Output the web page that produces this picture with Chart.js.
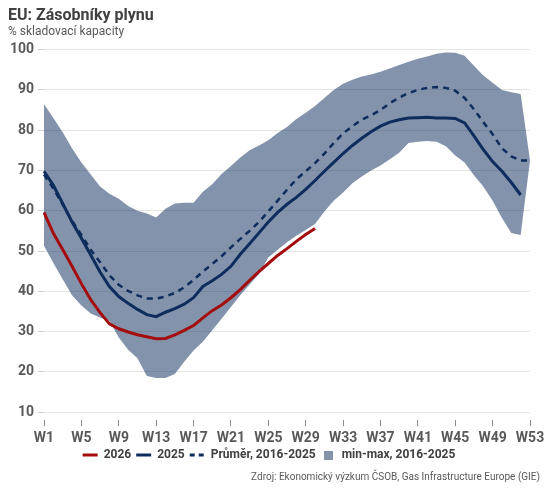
<!DOCTYPE html>
<html>
<head>
<meta charset="utf-8">
<script src="https://cdn.jsdelivr.net/npm/chart.js@4"></script>
<style>
  body { margin: 0; background: #fff; }
  #wrap { position: relative; width: 552px; height: 492px; }
  #src { position: absolute; right: 12px; top: 471px; font: 10px Roboto, sans-serif; color: #595959; }
</style>
</head>
<body>
<div id="wrap">
  <canvas id="zasobniky"></canvas>
  <div id="src">Zdroj: Ekonomický výzkum ČSOB, Gas Infrastructure Europe (GIE)</div>
</div>
<script>
// Zásobníky plynu EU – % skladovací kapacity, týdenní data
const weeks = Array.from({ length: 53 }, (_, i) => 'W' + (i + 1));
const yTicks = [10, 20, 30, 40, 50, 60, 70, 80, 90, 100];

const data2026 = [59.6, 54.4, 50.4, 46.2, 41.9, 37.9, 34.7, 31.9, 30.7, 29.9,
    29.2, 28.7, 28.2, 28.3, 29.2, 30.3, 31.5, 33.4, 35.2, 36.6,
    38.4, 40.4, 42.7, 44.9, 46.9, 48.9, 50.6, 52.4, 54.1, 55.6];

const data2025 = [69.8, 66.3, 61.8, 57.2, 53.2, 49, 44.8, 41.2, 38.7, 37,
    35.5, 34.2, 33.7, 34.8, 35.7, 36.8, 38.4, 41.2, 42.6, 44.2,
    46.2, 49.2, 51.8, 54.5, 57.2, 59.6, 61.6, 63.3, 65.3, 67.5,
    69.8, 72, 74.2, 76.2, 78, 79.6, 81, 82, 82.6, 83,
    83.1, 83.2, 83, 83, 82.9, 81.8, 78.6, 75.2, 72.2, 69.8,
    67, 63.9];

const dataAvg = [69, 65.5, 61.5, 57.5, 54, 50.3, 47.2, 44, 41.6, 40.1,
    39, 38.2, 38.2, 38.7, 39.6, 41, 42.8, 44.9, 46.8, 48.7,
    50.9, 53, 55, 57.2, 59.8, 62.5, 65.2, 67.8, 69.8, 71.8,
    74.2, 76.8, 79.2, 81, 82.6, 83.7, 85, 86.7, 88.1, 89.2,
    90, 90.5, 90.7, 90.5, 89.8, 88, 85.2, 82, 79, 75.5,
    73.5, 72.5, 72.5];

const dataMax = [86.5, 83, 79.5, 75.5, 72, 69, 66, 64.2, 63, 61.2,
    60, 59.3, 58.3, 60.5, 61.8, 62, 62, 64.7, 66.6, 69.1,
    71.1, 73.2, 75, 76.2, 77.5, 79.3, 80.8, 82.8, 84.3, 86,
    88, 90, 91.5, 92.5, 93.3, 93.8, 94.5, 95.3, 96.2, 97,
    97.7, 98.3, 99, 99.3, 99.2, 98.5, 96, 93.6, 91.8, 90,
    89.4, 89, 72.5];

const dataMin = [51.3, 47, 43, 39, 36.5, 34.5, 33.5, 32.6, 28.5, 25.5,
    23.4, 19, 18.5, 18.5, 19.5, 22.5, 25.3, 27.5, 30.3, 33.2,
    36.1, 39, 41.7, 44.3, 48.4, 50.3, 52.2, 53.8, 55.2, 56.7,
    59.8, 62.5, 64.5, 66.8, 68.5, 70, 71.2, 72.8, 74.4, 76.8,
    77.1, 77.3, 77.1, 76, 73.7, 72, 68.8, 66, 62.5, 58.2,
    54.5, 54, 72.5];

const RED = '#a30d0d';
const NAVY = '#0e2d5c';
const BAND = 'rgba(10,40,90,0.5)';
const FONT = 'Roboto, sans-serif';

// ctvercek do legendy (rect pointStyle se v legende roztahuje)
const square = document.createElement('canvas');
square.width = 9; square.height = 9;
const sq = square.getContext('2d');
sq.fillStyle = BAND;
sq.fillRect(0, 0, 9, 9);

const ctx = document.getElementById('zasobniky').getContext('2d');
new Chart(ctx, {
    type: 'line',
    data: {
        labels: weeks,
        datasets: [
            { label: '2026', data: data2026, borderColor: RED, borderWidth: 3, pointRadius: 0, fill: false, order: 1 },
            { label: '2025', data: data2025, borderColor: NAVY, borderWidth: 3, pointRadius: 0, fill: false, order: 2 },
            { label: 'Průměr, 2016-2025', data: dataAvg, borderColor: NAVY, borderWidth: 2.5, borderDash: [6, 5], pointRadius: 0, fill: false, order: 3 },
            { label: 'min', data: dataMin, borderColor: 'transparent', borderWidth: 0, pointRadius: 0, fill: false, order: 5 },
            { label: 'min-max, 2016-2025', data: dataMax, borderColor: 'transparent', borderWidth: 0, pointRadius: 0, backgroundColor: BAND, fill: '-1', order: 4 }
        ]
    },
    options: {
        responsive: true,
        maintainAspectRatio: false,
        animation: false,
        layout: { padding: { left: 8, right: 22, top: 0, bottom: 21 } },
        plugins: {
            tooltip: { enabled: false },
            title: {
                display: true, text: 'EU: Zásobníky plynu', align: 'start', color: '#404040',
                font: { family: FONT, size: 16, weight: 'bold' }, padding: { top: 6, bottom: 0 }
            },
            subtitle: {
                display: true, text: '% skladovací kapacity', align: 'start', color: '#595959',
                font: { family: FONT, size: 12 }, padding: { top: 0, bottom: 10 }
            },
            legend: {
                position: 'bottom',
                labels: {
                    usePointStyle: true, pointStyleWidth: 15, boxHeight: 9, padding: 5,
                    color: '#404040', font: { family: FONT, size: 12, weight: 'bold' },
                    generateLabels: () => [
                        { text: '2026', pointStyle: 'line', strokeStyle: RED, fillStyle: RED, lineWidth: 3, fontColor: '#404040' },
                        { text: '2025', pointStyle: 'line', strokeStyle: NAVY, fillStyle: NAVY, lineWidth: 3, fontColor: '#404040' },
                        { text: 'Průměr, 2016-2025', pointStyle: 'line', strokeStyle: NAVY, fillStyle: NAVY, lineWidth: 3, lineDash: [5, 4], fontColor: '#404040' },
                        { text: 'min-max, 2016-2025', pointStyle: square, strokeStyle: BAND, fillStyle: BAND, lineWidth: 0, fontColor: '#404040' }
                    ]
                }
            }
        },
        scales: {
            x: {
                afterFit: s => { s.height = s.height - 7; },
                grid: { drawOnChartArea: false, tickLength: 6, tickColor: '#8c8c8c' },
                border: { display: false },
                ticks: {
                    autoSkip: false, maxRotation: 0, padding: 4, color: '#595959',
                    font: { family: FONT, size: 14, weight: 'bold' },
                    callback: (v, i) => (i % 4 === 0 ? weeks[i] : null)
                }
            },
            y: {
                min: 8, max: 100,
                afterBuildTicks: s => { s.ticks = yTicks.map(v => ({ value: v })); },
                afterFit: s => { s.width = 36; },
                grid: { color: '#e4e4e4', tickLength: 6, tickColor: '#cfcfcf' },
                border: { display: false },
                ticks: { padding: 4, color: '#595959', font: { family: FONT, size: 14, weight: 'bold' } }
            }
        }
    }
});
</script>
</body>
</html>
